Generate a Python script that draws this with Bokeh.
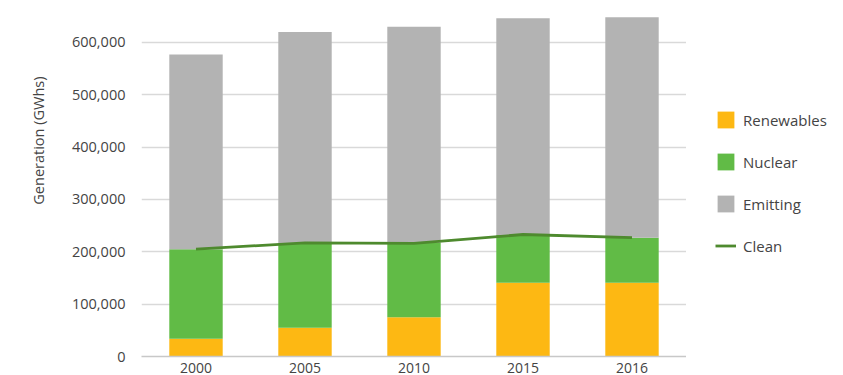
from bokeh.plotting import figure
from bokeh.models import ColumnDataSource, Legend, LegendItem, NumeralTickFormatter, FixedTicker, Range1d, Title
from bokeh.layouts import row
from bokeh.embed import file_html
from bokeh.resources import INLINE

years = ["2000", "2005", "2010", "2015", "2016"]
renewables = [34000, 55000, 75000, 141000, 141000]
nuclear = [171000, 162000, 142000, 91000, 86000]
emitting = [372000, 403000, 413000, 414000, 421000]
clean = [205000, 217000, 216000, 233000, 227000]
y_ticks = [0, 100000, 200000, 300000, 400000, 500000, 600000]
series = ["Renewables", "Nuclear", "Emitting"]
colors = ["#FDB813", "#61BB46", "#B3B3B3"]
line_color = "#4E8A2E"

src = ColumnDataSource(dict(years=years, Renewables=renewables, Nuclear=nuclear,
                            Emitting=emitting, Clean=clean))

FONT = "Open Sans"
TXT = "#444444"

p = figure(x_range=years, width=686, height=375, output_backend="svg",
           toolbar_location=None, min_border_left=141, min_border_right=0,
           min_border_top=0, min_border_bottom=0, outline_line_color=None)
p.y_range = Range1d(0, 680000)

p.vbar_stack(series, x="years", width=0.49, color=colors, line_color=None, source=src)
p.line(x="years", y="Clean", source=src, line_color=line_color, line_width=2.8)

p.xgrid.grid_line_color = None
p.ygrid.grid_line_color = "#D9D9D9"
p.ygrid.grid_line_width = 1.5

p.yaxis.ticker = FixedTicker(ticks=y_ticks)
p.yaxis.formatter = NumeralTickFormatter(format="0,0")
p.yaxis.axis_line_color = None
p.yaxis.major_tick_line_color = None
p.yaxis.minor_tick_line_color = None
p.yaxis.major_label_standoff = 10
p.yaxis.major_label_text_font_size = "14.5px"

p.xaxis.axis_line_color = "#C8C8C8"
p.xaxis.axis_line_width = 1.5
p.xaxis.major_tick_line_color = None
p.xaxis.minor_tick_line_color = None
p.xaxis.major_label_standoff = 0
p.xaxis.major_label_text_font_size = "14px"

for ax in (p.xaxis[0], p.yaxis[0]):
    ax.major_label_text_font = FONT
    ax.major_label_text_color = TXT

ytitle = Title(text="Generation (GWhs)", align="right", offset=76,
               text_font=FONT, text_font_size="14.5px", text_font_style="normal",
               text_color=TXT, standoff=44)
p.add_layout(ytitle, "left")

# legend panel: a second figure that only shows the legend (its renderers are hidden)
q = figure(x_range=years, y_range=Range1d(-2, -1), width=157, height=375,
           output_backend="svg", toolbar_location=None, x_axis_location=None,
           y_axis_location=None, min_border_left=0, min_border_right=0,
           min_border_top=0, min_border_bottom=0, outline_line_color=None)
q.grid.grid_line_color = None
qstack = q.vbar_stack(series, x="years", width=0.49, color=colors, line_color=None, source=src)
qln = q.line(x="years", y="Clean", source=src, line_color=line_color, line_width=2.8)
for r in list(qstack) + [qln]:
    r.visible = False

legend = Legend(items=[
    LegendItem(label=series[0], renderers=[qstack[0]]),
    LegendItem(label=series[1], renderers=[qstack[1]]),
    LegendItem(label=series[2], renderers=[qstack[2]]),
    LegendItem(label="Clean", renderers=[qln]),
], location=(29, 100), orientation="vertical", click_policy="none")
legend.glyph_width = 21
legend.glyph_height = 21
legend.spacing = 21
legend.label_standoff = 7
legend.padding = 0
legend.margin = 0
legend.border_line_color = None
legend.background_fill_alpha = 0
legend.label_text_font = FONT
legend.label_text_font_size = "15px"
legend.label_text_color = TXT
q.add_layout(legend, "center")

layout = row(p, q)
open("out.html", "w").write(file_html(layout, INLINE))
